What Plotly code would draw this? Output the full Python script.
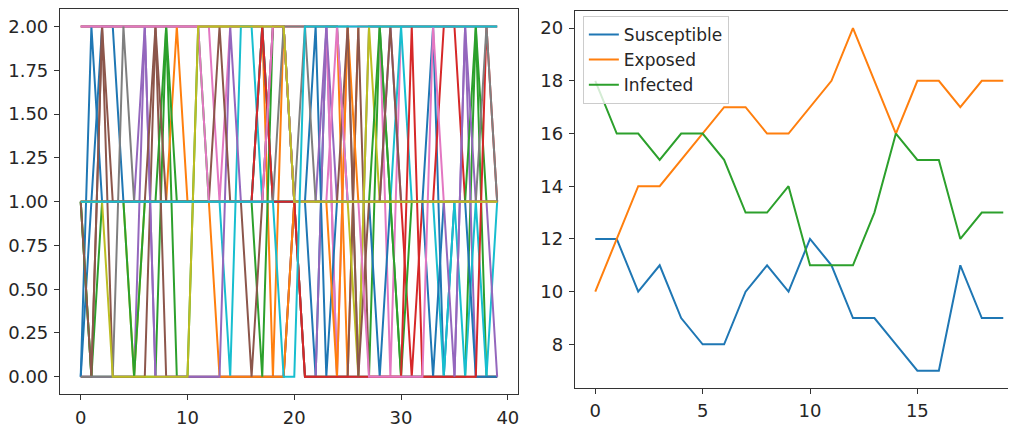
import plotly.graph_objects as go

# ---------------- Left panel: agent states (x = agent index, one line per time step)
agent_index = list(range(40))

states_t00 = [0,1,2,2,1,1,1,1,1,1, 1,1,1,1,1,1,1,1,1,1, 1,1,0,2,2,1,1,1,1,1, 1,1,1,2,0,1,1,1,1,1]
states_t01 = [2,2,2,2,2,2,2,2,2,2, 2,2,2,2,2,2,2,2,0,2, 2,2,2,2,2,0,2,2,2,2, 2,2,2,2,2,2,2,2,2,2]
states_t02 = [1,0,0,0,0,0,0,0,2,0, 0,2,1,1,1,1,1,2,1,1, 1,0,0,0,0,0,0,0,2,1, 0,0,0,0,0,0,0,2,0,0]
states_t03 = [1,1,1,1,1,1,1,1,1,1, 1,1,1,1,1,1,1,1,1,1, 1,1,1,1,1,1,1,1,1,1, 1,0,1,1,2,2,1,1,1,1]
states_t04 = [0,0,0,0,0,0,2,0,0,0, 0,0,0,0,0,0,0,0,0,0, 1,0,0,2,0,0,0,0,0,0, 0,0,0,0,0,0,2,0,0,0]
states_t05 = [0,0,2,0,0,0,0,2,0,0, 0,0,0,0,0,0,0,0,0,0, 1,0,0,0,0,0,2,0,0,0, 0,0,0,0,0,0,0,0,0,0]
states_t06 = [2,2,2,2,2,2,2,2,2,2, 2,2,2,1,2,2,2,2,2,2, 2,2,2,2,0,2,2,2,2,0, 2,2,2,2,2,2,2,2,2,2]
states_t07 = [2,2,2,2,2,2,2,2,2,2, 2,2,2,2,2,2,2,2,2,2, 1,2,2,2,2,2,0,2,2,2, 2,2,2,2,2,2,2,2,2,2]
states_t08 = [1,1,1,1,1,0,1,1,1,1, 1,1,1,1,1,1,1,1,1,1, 1,1,1,1,1,1,0,2,1,1, 1,1,1,1,1,1,1,1,1,1]
states_t09 = [1,1,1,1,1,1,1,1,1,1, 1,1,1,1,0,2,2,1,1,1, 1,1,1,1,1,1,1,1,1,1, 2,1,1,1,0,1,0,1,0,1]
states_t10 = [0,2,1,1,1,1,1,1,1,1, 1,1,1,1,1,1,1,2,1,1, 1,1,2,0,1,1,1,1,0,1, 1,1,1,0,1,1,1,0,0,0]
states_t11 = [1,1,1,1,1,1,1,1,1,2, 1,1,1,0,0,0,0,0,0,0, 1,1,1,1,0,2,1,1,1,1, 1,1,1,1,1,1,1,1,1,1]
states_t12 = [1,0,1,1,1,0,1,1,2,1, 1,1,1,1,1,1,1,0,2,2, 1,1,1,1,1,1,1,1,2,1, 0,1,1,1,1,1,1,2,1,1]
states_t13 = [1,1,1,1,1,1,1,1,1,1, 1,1,1,1,1,1,1,2,1,1, 1,0,0,0,0,0,0,0,0,0, 0,2,0,0,0,0,0,0,2,1]
states_t14 = [1,1,1,1,1,1,2,0,0,0, 0,0,0,0,2,1,1,1,2,2, 1,1,1,2,1,1,1,1,1,2, 1,1,1,1,1,0,2,1,1,0]
states_t15 = [1,0,2,1,1,1,1,2,1,1, 1,1,1,2,1,1,0,1,2,2, 1,1,1,1,1,2,0,1,1,2, 1,1,1,1,1,1,1,1,1,1]
states_t16 = [2,2,2,2,2,2,2,2,2,2, 2,2,1,1,1,1,1,1,2,2, 1,1,1,1,2,1,1,0,0,0, 0,0,0,2,1,1,1,1,1,1]
states_t17 = [0,0,0,0,2,1,1,1,1,1, 1,1,1,1,1,1,1,1,1,2, 2,2,1,1,1,1,1,1,1,1, 1,1,1,1,1,1,1,1,2,1]
states_t18 = [1,1,1,0,0,0,0,0,0,0, 0,2,2,2,2,2,2,2,2,2, 1,1,1,1,1,1,1,1,1,1, 1,1,1,1,1,1,1,1,1,1]
states_t19 = [1,1,1,1,1,1,1,1,1,1, 1,1,1,1,1,1,1,1,1,0, 0,2,2,2,2,2,2,2,2,2, 2,2,2,2,2,2,2,2,2,2]

state_lines = [states_t00, states_t01, states_t02, states_t03, states_t04,
               states_t05, states_t06, states_t07, states_t08, states_t09,
               states_t10, states_t11, states_t12, states_t13, states_t14,
               states_t15, states_t16, states_t17, states_t18, states_t19]

left_yticks = [0.0, 0.25, 0.5, 0.75, 1.0, 1.25, 1.5, 1.75, 2.0]
left_xticks = [0, 10, 20, 30, 40]

# ---------------- Right panel: SEIR counts over time
time_steps = list(range(20))
susceptible = [12,12,10,11,9,8,8,10,11,10,12,11,9,9,8,7,7,11,9,9]
exposed     = [10,12,14,14,15,16,17,17,16,16,17,18,20,18,16,18,18,17,18,18]
infected    = [18,16,16,15,16,16,15,13,13,14,11,11,11,13,16,15,15,12,13,13]
series_names = ["Susceptible", "Exposed", "Infected"]

right_yticks = [8, 10, 12, 14, 16, 18, 20]
right_xticks = [0, 5, 10, 15]

tab10 = ["#1f77b4", "#ff7f0e", "#2ca02c", "#d62728", "#9467bd",
         "#8c564b", "#e377c2", "#7f7f7f", "#bcbd22", "#17becf"]

# The page body has an 8px default margin: size the figure so it ends at the window edge
OFF = 8
WIN_W, WIN_H = 1016, 428
W, H = WIN_W - OFF, WIN_H - OFF


def px_x(p):
    return (p - OFF) / W


def px_y(p):
    return (WIN_H - p) / H


fig = go.Figure()

for i, vals in enumerate(state_lines):
    fig.add_trace(go.Scatter(x=agent_index, y=vals, mode="lines",
                             line=dict(color=tab10[i % 10], width=2),
                             showlegend=False, xaxis="x", yaxis="y"))

for name, vals, col in zip(series_names, [susceptible, exposed, infected], tab10[:3]):
    fig.add_trace(go.Scatter(x=time_steps, y=vals, mode="lines", name=name,
                             line=dict(color=col, width=2),
                             xaxis="x2", yaxis="y2"))

tick_font = dict(family="DejaVu Sans", size=18, color="#262626")
legend_font = dict(family="DejaVu Sans", size=17, color="#262626")
axis_common = dict(showgrid=False, zeroline=False, showline=True, mirror=True,
                   linecolor="#333333", linewidth=1, ticks="outside", ticklen=5,
                   tickcolor="#333333", tickwidth=1, tickfont=tick_font, ticklabelstandoff=2)

fig.update_layout(
    width=W, height=H,
    margin=dict(l=0, r=0, t=0, b=0),
    paper_bgcolor="white", plot_bgcolor="white",
    xaxis=dict(domain=[px_x(59), px_x(518)], range=[-1.95, 40.95],
               tickvals=left_xticks, ticktext=[str(v) for v in left_xticks], **axis_common),
    yaxis=dict(domain=[px_y(398), px_y(9)], range=[-0.1, 2.1],
               tickvals=left_yticks, ticktext=[f"{v:.2f}" for v in left_yticks], **axis_common),
    xaxis2=dict(domain=[px_x(575), min(1.0, px_x(1015))], range=[-0.95, 19.5], anchor="y2",
                tickvals=right_xticks, ticktext=[str(v) for v in right_xticks], **axis_common),
    yaxis2=dict(domain=[px_y(391.5), px_y(11)], range=[6.35, 20.65], anchor="x2",
                tickvals=right_yticks, ticktext=[str(v) for v in right_yticks], **axis_common),
    legend=dict(x=px_x(583), y=px_y(16), xanchor="left", yanchor="top",
                bgcolor="rgba(255,255,255,0.8)", bordercolor="#cccccc", borderwidth=1,
                font=legend_font, tracegroupgap=0, itemwidth=30),
    showlegend=True,
)

fig.write_html("out.html")
